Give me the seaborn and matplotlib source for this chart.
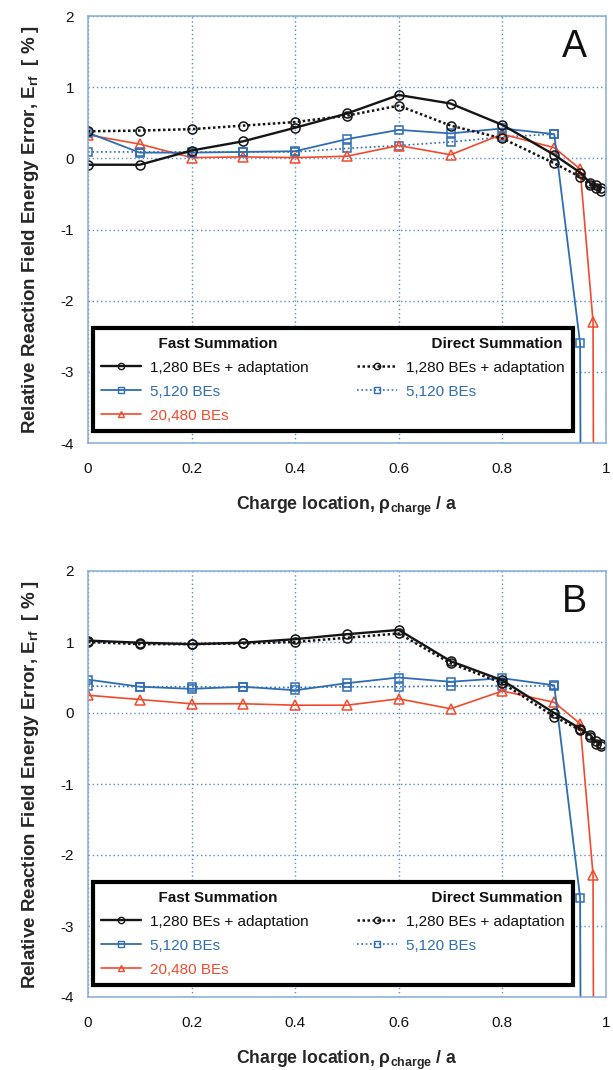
import matplotlib
matplotlib.use("Agg")
import matplotlib.pyplot as plt
from matplotlib.lines import Line2D
import seaborn as sns

# Charge positions, rho_charge / a
x_base = [0.0, 0.1, 0.2, 0.3, 0.4, 0.5, 0.6, 0.7, 0.8, 0.9]
x_adapt = x_base + [0.95, 0.97, 0.98, 0.99]
x_5120_fast = x_base + [0.95, 0.97]
x_5120_direct = x_base
x_20480 = x_base + [0.95, 0.975, 0.99]

# Panel A: relative reaction field energy error [%]
a_fast_1280 = [-0.09, -0.09, 0.11, 0.24, 0.43, 0.63, 0.89, 0.77, 0.47, 0.05, -0.20, -0.35, -0.38, -0.42]
a_direct_1280 = [0.38, 0.39, 0.41, 0.46, 0.51, 0.60, 0.74, 0.46, 0.28, -0.07, -0.26, -0.38, -0.42, -0.46]
a_fast_5120 = [0.36, 0.08, 0.08, 0.09, 0.10, 0.27, 0.40, 0.35, 0.42, 0.34, -2.60, -40.0]
a_direct_5120 = [0.09, 0.09, 0.09, 0.09, 0.09, 0.14, 0.18, 0.23, 0.30, 0.34]
a_fast_20480 = [0.33, 0.20, 0.01, 0.02, 0.01, 0.03, 0.18, 0.05, 0.34, 0.15, -0.15, -2.30, -40.0]

# Panel B
b_fast_1280 = [1.02, 0.99, 0.97, 0.99, 1.04, 1.11, 1.17, 0.73, 0.46, 0.00, -0.22, -0.31, -0.40, -0.43]
b_direct_1280 = [1.00, 0.97, 0.97, 0.98, 1.00, 1.06, 1.12, 0.70, 0.42, -0.05, -0.24, -0.34, -0.44, -0.47]
b_fast_5120 = [0.47, 0.37, 0.34, 0.37, 0.32, 0.42, 0.50, 0.44, 0.49, 0.39, -2.60, -40.0]
b_direct_5120 = [0.38, 0.37, 0.37, 0.36, 0.36, 0.37, 0.37, 0.38, 0.38, 0.38]
b_fast_20480 = [0.25, 0.19, 0.13, 0.13, 0.11, 0.11, 0.20, 0.06, 0.31, 0.15, -0.15, -2.28, -40.0]

panel_names = ["A", "B"]
x_ticks = [0, 0.2, 0.4, 0.6, 0.8, 1.0]
x_tick_labels = ["0", "0.2", "0.4", "0.6", "0.8", "1"]
y_ticks = [-4, -3, -2, -1, 0, 1, 2]

label_fast_1280 = "1,280 BEs + adaptation"
label_5120 = "5,120 BEs"
label_20480 = "20,480 BEs"
header_fast = "  Fast Summation"
header_direct = "      Direct Summation"

BLACK = "#151515"
BLUE = "#2f6db3"
RED = "#f24a2c"
GRID = "#5b8dcc"
SPINE = "#86acd9"

sns.set_theme(style="white")
plt.rcParams["font.family"] = ["Liberation Sans", "DejaVu Sans"]
plt.rcParams["axes.unicode_minus"] = False
plt.rcParams["mathtext.fontset"] = "custom"
plt.rcParams["mathtext.rm"] = "Liberation Sans"
plt.rcParams["mathtext.it"] = "Liberation Sans:italic"
plt.rcParams["mathtext.bf"] = "Liberation Sans:bold"

fig = plt.figure(figsize=(6.13, 10.70), dpi=100)
ax_a = fig.add_axes([88 / 613, 1 - 443 / 1070, 518 / 613, 427 / 1070])
ax_b = fig.add_axes([88 / 613, 1 - 997 / 1070, 518 / 613, 426 / 1070])

styles = {
    "fast_1280": dict(color=BLACK, linestyle="-", linewidth=1.7, marker="o", markersize=6.5),
    "direct_1280": dict(color=BLACK, linestyle=(0, (1, 1)), linewidth=1.8, marker="o", markersize=6.5),
    "fast_5120": dict(color=BLUE, linestyle="-", linewidth=1.3, marker="s", markersize=6),
    "direct_5120": dict(color=BLUE, linestyle=(0, (1, 1.6)), linewidth=1.2, marker="s", markersize=6),
    "fast_20480": dict(color=RED, linestyle="-", linewidth=1.2, marker="^", markersize=6.5),
}

panels = [
    (ax_a, a_fast_1280, a_direct_1280, a_fast_5120, a_direct_5120, a_fast_20480),
    (ax_b, b_fast_1280, b_direct_1280, b_fast_5120, b_direct_5120, b_fast_20480),
]

for (ax, f1280, d1280, f5120, d5120, f20480), name in zip(panels, panel_names):
    series = [
        ("direct_5120", x_5120_direct, d5120),
        ("fast_20480", x_20480, f20480),
        ("fast_5120", x_5120_fast, f5120),
        ("direct_1280", x_adapt, d1280),
        ("fast_1280", x_adapt, f1280),
    ]
    for key, xs, ys in series:
        st = styles[key]
        sns.lineplot(x=xs, y=ys, ax=ax, sort=False, errorbar=None,
                     color=st["color"], linestyle=st["linestyle"],
                     linewidth=st["linewidth"], marker=st["marker"],
                     markersize=st["markersize"], markerfacecolor="none",
                     markeredgecolor=st["color"], markeredgewidth=1.1,
                     clip_on=True)

    ax.set_xlim(0, 1)
    ax.set_ylim(-4, 2)
    ax.set_xticks(x_ticks)
    ax.set_xticklabels(x_tick_labels)
    ax.set_yticks(y_ticks)
    ax.tick_params(axis="both", length=0, labelsize=11, colors="#111111")
    ax.tick_params(axis="x", pad=14)
    ax.tick_params(axis="y", pad=10)
    ax.grid(True, linestyle=(0, (1, 2)), color=GRID, linewidth=1.0)
    for sp in ax.spines.values():
        sp.set_color(SPINE)
        sp.set_linewidth(1.1)

    ax.set_xlabel(r"Charge location, ρ$_{\mathbf{charge}}$ / a",
                  fontsize=12.7, fontweight="bold", labelpad=13)
    ax.set_ylabel(r"Relative Reaction Field Energy Error, E$_{\mathbf{rf}}$  [ % ]",
                  fontsize=13.5, fontweight="bold", labelpad=14)

    ax.text(0.94, 1.56, name, fontsize=27, ha="center", va="center", color="#111111")

    def handle(key):
        st = styles[key]
        return Line2D([], [], color=st["color"], linestyle=st["linestyle"],
                      linewidth=st["linewidth"], marker=st["marker"],
                      markersize=st["markersize"] * 0.7, markerfacecolor="none",
                      markeredgecolor=st["color"], markeredgewidth=1.0)

    blank = Line2D([], [], linestyle="none")
    handles = [blank, handle("fast_1280"), handle("fast_5120"), handle("fast_20480"),
               blank, handle("direct_1280"), handle("direct_5120"), blank]
    labels = [header_fast, label_fast_1280, label_5120, label_20480,
              header_direct, label_fast_1280, label_5120, " "]
    leg = ax.legend(handles, labels, ncol=2, loc="lower left",
                    bbox_to_anchor=(0.0097, 0.028, 0.927, 0.25), mode="expand",
                    borderaxespad=0, fontsize=11, handlelength=2.6,
                    handletextpad=0.6, labelspacing=0.65, borderpad=0.55,
                    fancybox=False, frameon=True, framealpha=1.0)
    frame = leg.get_frame()
    frame.set_edgecolor("black")
    frame.set_linewidth(3)
    text_colors = ["#111111", "#111111", BLUE, RED, "#111111", "#111111", BLUE, "#111111"]
    for txt, col in zip(leg.get_texts(), text_colors):
        txt.set_color(col)
        if txt.get_text() in (header_fast, header_direct):
            txt.set_fontweight("bold")

fig.savefig("out.png", dpi=100)
